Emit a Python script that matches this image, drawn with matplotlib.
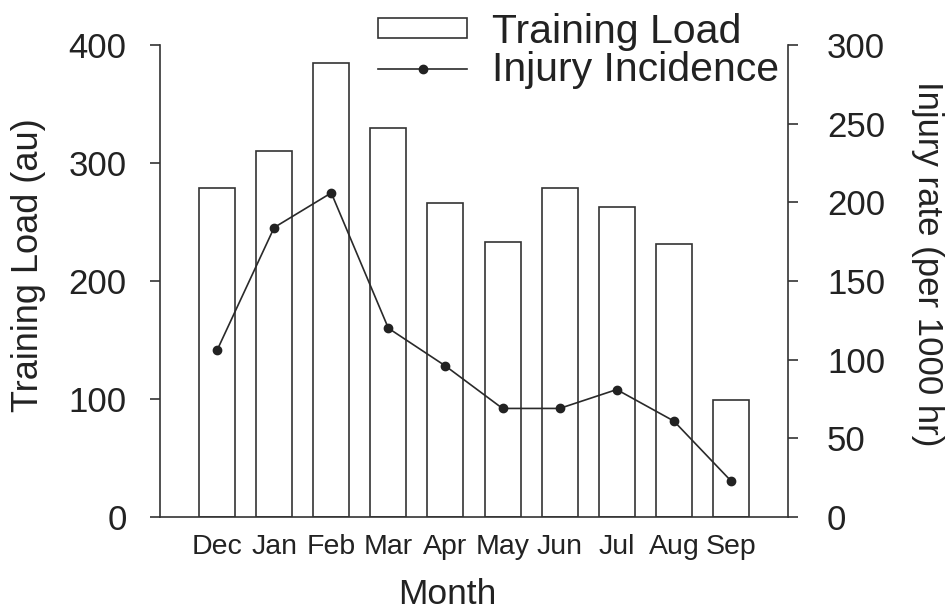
import matplotlib
matplotlib.use("Agg")
import matplotlib.pyplot as plt
import numpy as np

months = ["Dec", "Jan", "Feb", "Mar", "Apr", "May", "Jun", "Jul", "Aug", "Sep"]
training_load = [279, 310, 385, 330, 266, 233, 279, 263, 231, 99]
injury_rate = [106, 184, 206, 120, 96, 69, 69, 81, 61, 23]
left_ticks = [0, 100, 200, 300, 400]
right_ticks = [0, 50, 100, 150, 200, 250, 300]

plt.rcParams["font.family"] = ["Liberation Sans", "DejaVu Sans"]
ink = "#222222"

W, H = 946, 613
fig = plt.figure(figsize=(W / 100, H / 100), dpi=100)
ax = fig.add_axes([160 / W, 1 - 517 / H, (788 - 160) / W, (517 - 45) / H])
ax2 = ax.twinx()

x = np.arange(len(months))
bars = ax.bar(x, training_load, width=0.63, facecolor="white",
              edgecolor="#333333", linewidth=1.2, label="Training Load", zorder=2)
line, = ax2.plot(x, injury_rate, color="#2a2a2a", linewidth=1.2, marker="o",
                 markersize=6, markerfacecolor="#222222", markeredgecolor="#222222",
                 label="Injury Incidence", zorder=3)

ax.set_xlim(-1, len(months))
ax.set_ylim(0, 400)
ax2.set_ylim(0, 300)
ax.set_yticks(left_ticks)
ax2.set_yticks(right_ticks)
ax.set_xticks(x)
ax.set_xticklabels(months)

for a in (ax, ax2):
    a.spines["top"].set_visible(False)
    for s in a.spines.values():
        s.set_color("#333333")
        s.set_linewidth(1.2)
ax.spines["right"].set_visible(False)
ax2.spines["left"].set_visible(False)
ax2.spines["bottom"].set_visible(False)

ax.tick_params(axis="x", length=0, pad=12, labelsize=20.5, labelcolor=ink)
ax.tick_params(axis="y", direction="out", length=7, width=1.2, color="#333333",
               pad=17, labelsize=25, labelcolor=ink)
ax2.tick_params(axis="y", direction="out", length=7, width=1.2, color="#333333",
                pad=21, labelsize=25, labelcolor=ink)

ax.set_xlabel("Month", fontsize=25.5, color=ink)
ax.xaxis.label.set_va("center")
ax.xaxis.set_label_coords(0.457, -0.165)

ax.set_ylabel("Training Load (au)", fontsize=26, color=ink, va="center")
ax.yaxis.set_label_coords(-0.21, 0.534)

ax2.set_ylabel("Injury rate (per 1000 hr)", fontsize=25, color=ink,
               rotation=270, va="center")
ax2.yaxis.set_label_coords(1.222, 0.536)

fs = 29.5
em = fs * 100 / 72
leg = fig.legend(handles=[bars, line], labels=["Training Load", "Injury Incidence"],
                 loc="upper left", bbox_to_anchor=(378 / W, 1 - 13 / H),
                 bbox_transform=fig.transFigure, frameon=False, fontsize=fs,
                 borderpad=0, borderaxespad=0, handlelength=89 / em,
                 handleheight=15 / em, handletextpad=25 / em, labelspacing=0.0)
for t in leg.get_texts():
    t.set_color(ink)

fig.savefig("out.png", dpi=100)
